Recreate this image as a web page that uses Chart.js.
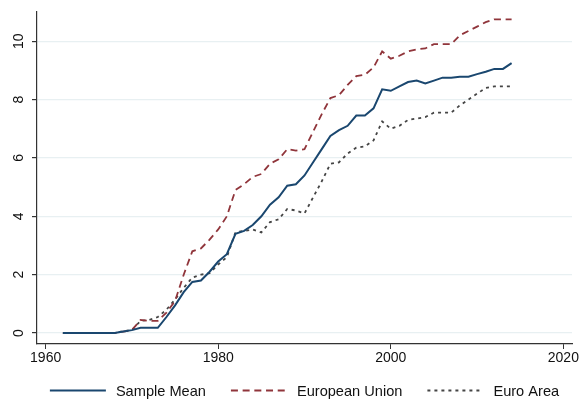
<!DOCTYPE html>
<html>
<head>
<meta charset="utf-8">
<script src="https://cdn.jsdelivr.net/npm/chart.js@4"></script>
<style>
  html, body { margin: 0; padding: 0; background: #fff; }
  #wrap { width: 583px; height: 403px; }
</style>
</head>
<body>
<div id="wrap"><canvas id="c" width="583" height="403"></canvas></div>
<script>
const years = [];
for (let y = 1962; y <= 2014; y++) years.push(y);

const sampleMean = [0,0,0,0,0,0,0,0.05,0.1,0.18,0.18,0.18,0.55,0.95,1.4,1.75,1.8,2.1,2.45,2.7,
  3.4,3.5,3.7,4.0,4.4,4.65,5.05,5.1,5.4,5.85,6.3,6.75,6.95,7.1,7.45,7.45,7.7,8.35,8.3,8.45,
  8.6,8.65,8.55,8.65,8.75,8.75,8.78,8.78,8.87,8.95,9.05,9.05,9.25];

const europeanUnion = [0,0,0,0,0,0,0,0.05,0.1,0.45,0.42,0.42,0.7,1.1,2.0,2.8,2.9,3.2,3.55,4.0,
  4.9,5.1,5.35,5.45,5.8,5.95,6.3,6.25,6.3,6.9,7.5,8.05,8.15,8.5,8.8,8.85,9.1,9.65,9.4,9.5,
  9.65,9.72,9.75,9.9,9.9,9.9,10.2,10.35,10.5,10.65,10.75,10.75,10.75];

const euroArea = [0,0,0,0,0,0,0,0.07,0.1,0.42,0.45,0.55,0.8,1.15,1.55,1.9,2.0,2.05,2.35,2.6,
  3.45,3.5,3.55,3.45,3.8,3.9,4.25,4.2,4.1,4.65,5.2,5.8,5.85,6.15,6.35,6.4,6.6,7.25,7.0,7.1,
  7.3,7.35,7.4,7.55,7.55,7.55,7.8,8.0,8.2,8.4,8.45,8.45,8.45];

const xTicks = [1960, 1980, 2000, 2020];
const yTicks = [0, 2, 4, 6, 8, 10];

const FONT = "'Liberation Sans', Arial, Helvetica, sans-serif";

function pts(vals) { return years.map((y, i) => ({ x: y, y: vals[i] })); }

const rotatedYLabels = {
  id: 'rotatedYLabels',
  afterDraw(chart) {
    const s = chart.scales.y;
    const ctx = chart.ctx;
    ctx.save();
    ctx.fillStyle = '#111';
    ctx.font = '14px ' + FONT;
    ctx.textAlign = 'center';
    ctx.textBaseline = 'middle';
    s.ticks.forEach(t => {
      const py = s.getPixelForValue(t.value);
      ctx.save();
      ctx.translate(19, py);
      ctx.rotate(-Math.PI / 2);
      ctx.fillText(String(t.value), 0, 0);
      ctx.restore();
    });
    ctx.restore();
  }
};

const lineLegend = {
  id: 'lineLegend',
  afterDraw(chart) {
    const ctx = chart.ctx;
    const area = chart.chartArea;
    const sets = chart.data.datasets;
    const lineLen = 56, gapText = 10, gapItem = 25;
    ctx.save();
    ctx.font = '14.6px ' + FONT;
    const widths = sets.map(d => lineLen + gapText + ctx.measureText(d.label).width);
    const total = widths.reduce((a, b) => a + b, 0) + gapItem * (sets.length - 1);
    let x = (area.left + area.right) / 2 - total / 2;
    const y = 390.5;
    sets.forEach((d, i) => {
      ctx.beginPath();
      ctx.setLineDash(d.borderDash || []);
      ctx.strokeStyle = d.borderColor;
      ctx.lineWidth = d.borderWidth;
      ctx.moveTo(x, y);
      ctx.lineTo(x + lineLen, y);
      ctx.stroke();
      ctx.setLineDash([]);
      ctx.fillStyle = '#111';
      ctx.textAlign = 'left';
      ctx.textBaseline = 'middle';
      ctx.fillText(d.label, x + lineLen + gapText, y + 1);
      x += widths[i] + gapItem;
    });
    ctx.restore();
  }
};

new Chart(document.getElementById('c'), {
  type: 'line',
  data: {
    datasets: [
      { label: 'Sample Mean', data: pts(sampleMean), borderColor: '#1a476f', borderWidth: 2,
        pointRadius: 0, tension: 0, fill: false },
      { label: 'European Union', data: pts(europeanUnion), borderColor: '#90353b', borderWidth: 1.8,
        borderDash: [7, 4.7], pointRadius: 0, tension: 0, fill: false },
      { label: 'Euro Area', data: pts(euroArea), borderColor: '#454545', borderWidth: 1.8,
        borderDash: [3, 4], pointRadius: 0, tension: 0, fill: false }
    ]
  },
  options: {
    responsive: false,
    animation: false,
    layout: { padding: { left: 0, right: 11, top: 10, bottom: 31 } },
    plugins: {
      tooltip: { enabled: false },
      legend: { display: false }
    },
    scales: {
      x: {
        type: 'linear',
        min: 1959,
        max: 2021,
        afterBuildTicks: s => { s.ticks = xTicks.map(v => ({ value: v })); },
        afterFit: s => { s.height = 28; },
        ticks: {
          color: '#111',
          font: { family: FONT, size: 14 },
          padding: 1,
          maxRotation: 0,
          callback: v => String(v)
        },
        grid: { drawOnChartArea: false, drawTicks: true, tickLength: 5, tickColor: '#333', lineWidth: 1 },
        border: { display: true, color: '#333', width: 1.2 }
      },
      y: {
        type: 'linear',
        min: -0.375,
        max: 11.02,
        afterBuildTicks: s => { s.ticks = yTicks.map(v => ({ value: v })); },
        afterFit: s => { s.width = 37; },
        ticks: {
          color: 'rgba(0,0,0,0)',
          font: { family: FONT, size: 14 },
          callback: v => String(v)
        },
        grid: { drawOnChartArea: true, color: '#e8f0f2', lineWidth: 1.2, drawTicks: true, tickLength: 5, tickColor: '#333' },
        border: { display: true, color: '#333', width: 1.2 }
      }
    }
  },
  plugins: [rotatedYLabels, lineLegend]
});
</script>
</body>
</html>
